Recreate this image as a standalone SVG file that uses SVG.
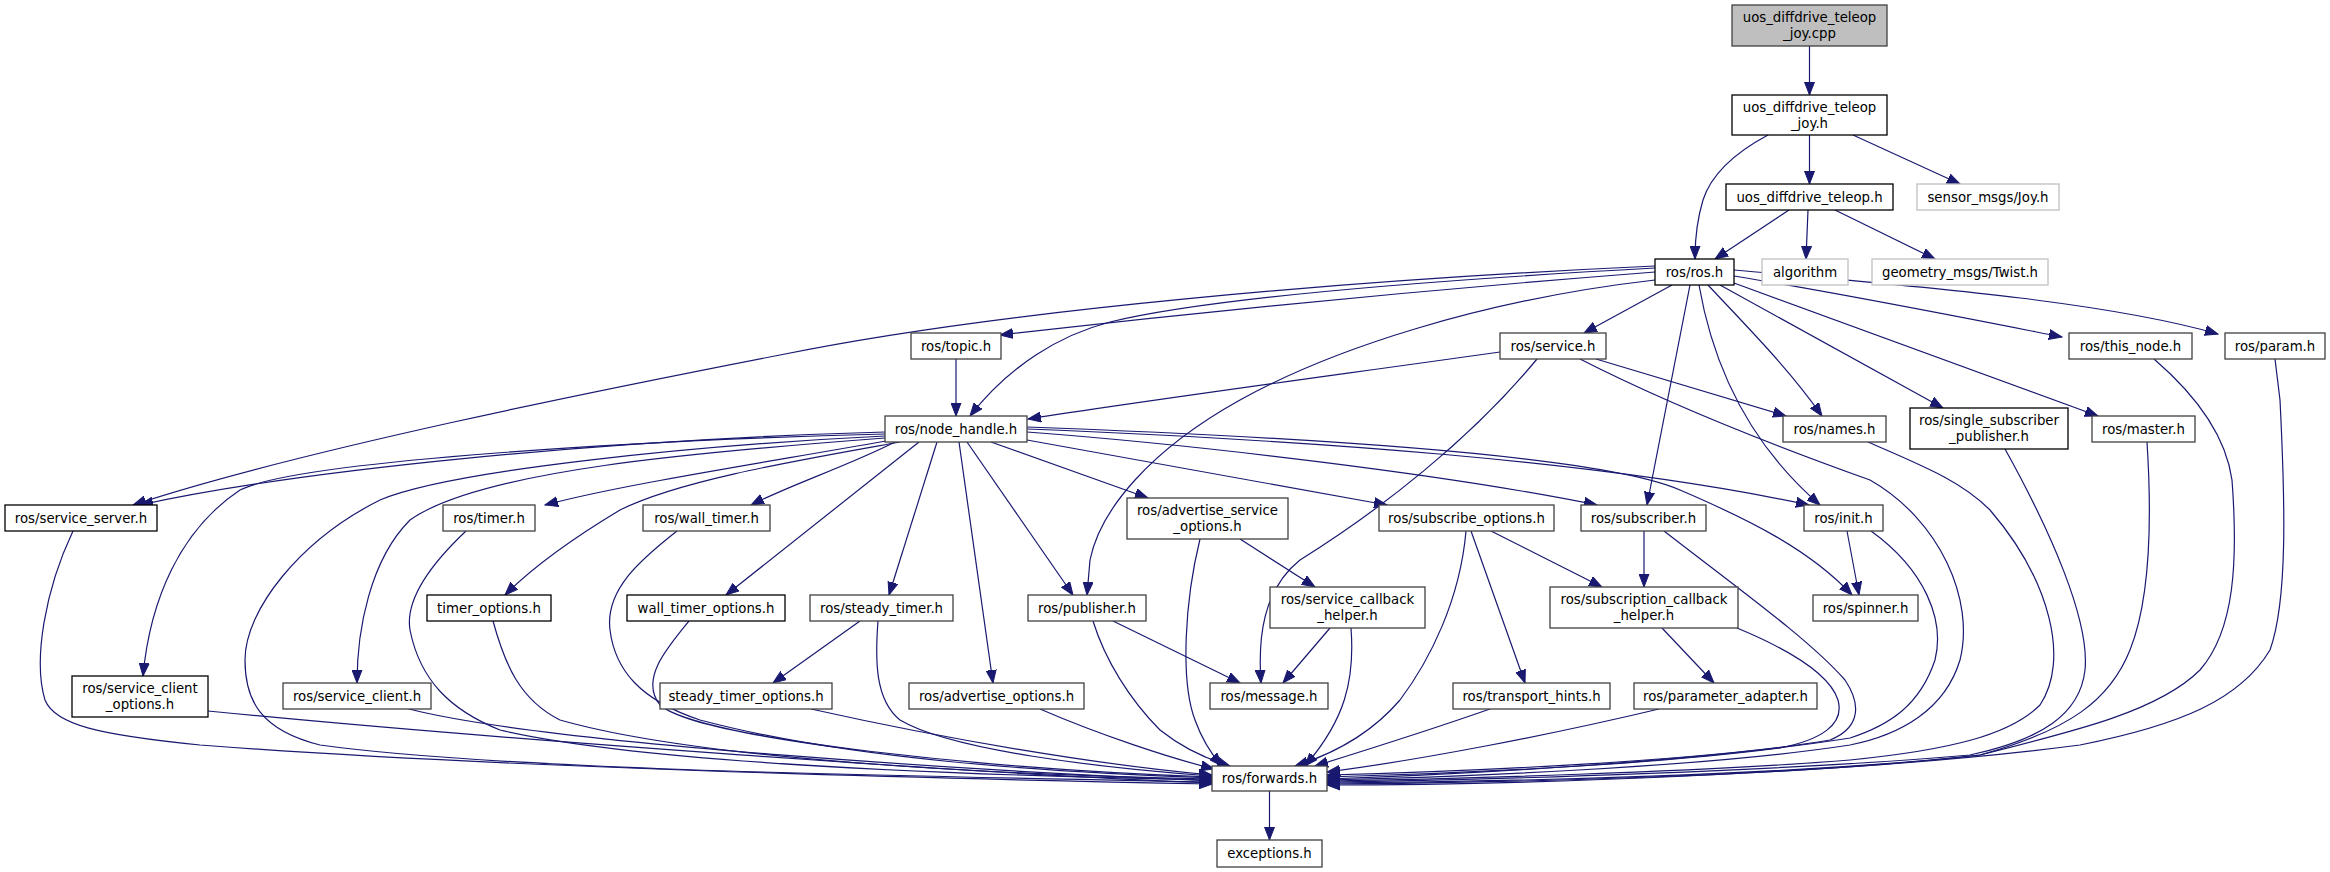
<svg xmlns="http://www.w3.org/2000/svg" width="2330" height="872" viewBox="0 0 2330 872">
<style>
.bg{fill:#ffffff}
.n rect{fill:#ffffff;stroke:#404040;stroke-width:1.3}
.n.blk rect{stroke:#000000}
.n.root rect{fill:#bfbfbf;stroke:#404040}
.n.ext rect{stroke:#bfbfbf}
.n text{font-family:"DejaVu Sans","Liberation Sans",sans-serif;font-size:13.3px;fill:#000000;text-anchor:middle}
#edges path{fill:none;stroke:#191970;stroke-width:1.2;marker-end:url(#arr)}
</style>
<defs>
<marker id="arr" markerUnits="userSpaceOnUse" markerWidth="14" markerHeight="11" viewBox="0 0 14 11" refX="13" refY="5.5" orient="auto">
<path d="M0,0.5 L13,5.5 L0,10.5 z" fill="#191970" stroke="#191970" stroke-width="1"/>
</marker>
</defs>
<rect class="bg" x="0" y="0" width="2330" height="872"/>
<g id="edges">
<path d="M1809.5,46 L1809.5,95"/>
<path d="M1809.5,135 L1809.5,184"/>
<path d="M1768,135 C1740,150 1712,172 1703,200 C1697,220 1695,240 1695,259"/>
<path d="M1853,135 L1960,184"/>
<path d="M1789,210 L1715,259"/>
<path d="M1808,210 L1806,259"/>
<path d="M1835,210 L1935,259"/>
<path d="M1655,272 C1450,288 1200,312 1000,335"/>
<path d="M1655,268 C1400,282 1200,300 1110,322 C1060,335 1010,365 970,416"/>
<path d="M1655,266 C1350,280 1000,310 780,355 C600,390 300,450 133,505"/>
<path d="M1672,285 L1584,333"/>
<path d="M1655,280 C1480,300 1330,350 1240,400 C1150,450 1100,510 1090,560 L1087,595"/>
<path d="M1690,285 L1647,505"/>
<path d="M1699,285 C1712,360 1745,440 1820,505"/>
<path d="M1708,285 C1750,330 1790,370 1822,416"/>
<path d="M1720,285 L1943,408"/>
<path d="M1734,283 L2098,416"/>
<path d="M1734,276 C1850,295 1950,315 2062,337"/>
<path d="M1734,270 C1900,285 2100,300 2218,334"/>
<path d="M956,359 L956,416"/>
<path d="M1500,352 C1300,380 1150,400 1028,419"/>
<path d="M1596,359 L1786,416"/>
<path d="M1537,359 C1470,440 1380,510 1300,560 C1262,590 1258,640 1261,683"/>
<path d="M1580,359 C1680,410 1800,455 1870,480 C1940,520 1975,600 1960,660 C1945,710 1900,735 1850,745 C1700,768 1450,777 1327,780"/>
<path d="M885,432 C600,440 300,470 140,505"/>
<path d="M885,434 C650,440 300,460 240,490 C180,530 150,600 143,676"/>
<path d="M885,436 C700,445 450,470 380,500 C300,540 245,610 245,660 C245,700 260,730 320,745 C500,770 900,776 1212,782"/>
<path d="M885,438 C700,452 480,470 410,520 C370,560 357,630 357,683"/>
<path d="M886,441 C750,465 620,485 545,505"/>
<path d="M900,442 C800,460 680,480 620,510 C570,540 530,570 505,595"/>
<path d="M895,442 C850,465 790,485 751,505"/>
<path d="M919,442 L726,595"/>
<path d="M937,442 L889,595"/>
<path d="M959,442 L993,683"/>
<path d="M967,442 L1073,595"/>
<path d="M991,442 L1148,498"/>
<path d="M1027,440 L1387,505"/>
<path d="M1027,432 C1200,445 1450,475 1597,505"/>
<path d="M1027,429 C1300,440 1600,460 1809,505"/>
<path d="M1027,427 C1300,437 1600,455 1680,490 C1750,520 1810,550 1852,595"/>
<path d="M73,531 C45,590 33,660 45,700 C55,725 100,735 200,745 C500,768 900,778 1212,784"/>
<path d="M208,711 C500,740 1000,775 1212,783"/>
<path d="M409,709 C550,745 1000,772 1212,781"/>
<path d="M466,531 C430,565 405,600 410,630 C420,680 450,710 500,730 C650,765 1000,776 1212,780"/>
<path d="M493,621 C505,665 520,700 560,720 C700,760 1000,775 1212,779"/>
<path d="M677,531 C640,560 605,590 610,630 C615,670 640,700 700,720 C850,760 1050,772 1212,778"/>
<path d="M689,621 C665,650 640,680 660,705 C700,740 1000,770 1212,777"/>
<path d="M860,621 L773,683"/>
<path d="M878,621 C875,660 875,700 900,720 C950,750 1100,768 1212,776"/>
<path d="M811,709 C950,740 1100,765 1212,775"/>
<path d="M1040,709 C1100,735 1170,758 1214,769"/>
<path d="M1113,621 L1240,683"/>
<path d="M1093,621 C1105,660 1130,700 1160,730 C1185,750 1210,760 1230,766"/>
<path d="M1200,539 C1185,600 1180,680 1195,720 C1203,742 1212,755 1222,766"/>
<path d="M1240,539 L1315,587"/>
<path d="M1330,628 L1283,683"/>
<path d="M1351,628 C1355,680 1345,720 1305,766"/>
<path d="M1491,531 L1602,587"/>
<path d="M1471,531 L1525,683"/>
<path d="M1466,531 C1460,600 1430,660 1400,700 C1370,735 1330,755 1295,766"/>
<path d="M1644,531 L1644,587"/>
<path d="M1664,531 C1740,590 1810,640 1845,680 C1865,710 1855,730 1830,740 C1700,762 1450,772 1327,775"/>
<path d="M1847,531 L1859,595"/>
<path d="M1871,531 C1925,570 1945,620 1935,660 C1920,705 1890,725 1850,738 C1700,762 1450,775 1327,779"/>
<path d="M1662,628 L1714,683"/>
<path d="M1737,628 C1790,650 1830,675 1838,700 C1845,725 1820,740 1780,748 C1650,765 1450,774 1327,777"/>
<path d="M1490,709 C1430,730 1360,752 1315,766"/>
<path d="M1659,709 C1550,735 1420,760 1327,772"/>
<path d="M1868,442 C1920,465 1960,480 1990,510 C2050,580 2070,660 2040,705 C2010,735 1950,750 1850,760 C1700,772 1450,779 1327,781"/>
<path d="M2005,449 C2050,530 2090,620 2085,670 C2080,715 2040,740 1970,755 C1800,770 1500,780 1327,782"/>
<path d="M2147,442 C2152,520 2150,600 2130,650 C2110,700 2070,730 1980,755 C1800,775 1500,782 1327,783"/>
<path d="M2154,359 C2190,390 2225,430 2232,480 C2238,560 2235,630 2200,670 C2160,710 2080,730 1980,755 C1800,776 1500,783 1327,784"/>
<path d="M2275,359 L2280,400 C2285,500 2288,600 2270,650 C2240,700 2180,725 2080,745 C1850,775 1500,785 1327,785"/>
<path d="M1269.5,791 L1269.5,840"/>
</g>
<g id="n_cpp" class="n root"><rect x="1732" y="5" width="155" height="41"/><text x="1809.5" y="22">uos_diffdrive_teleop</text><text x="1809.5" y="37.5">_joy.cpp</text></g>
<g id="n_joyh" class="n blk"><rect x="1732" y="95" width="155" height="40"/><text x="1809.5" y="112">uos_diffdrive_teleop</text><text x="1809.5" y="127.5">_joy.h</text></g>
<g id="n_teleop" class="n blk"><rect x="1726" y="184" width="167" height="26"/><text x="1809.5" y="201.6">uos_diffdrive_teleop.h</text></g>
<g id="n_joymsg" class="n ext"><rect x="1917" y="184" width="142" height="26"/><text x="1988" y="201.6">sensor_msgs/Joy.h</text></g>
<g id="n_ros" class="n blk"><rect x="1655" y="259" width="79" height="26"/><text x="1694.5" y="276.6">ros/ros.h</text></g>
<g id="n_algo" class="n ext"><rect x="1762" y="259" width="86" height="26"/><text x="1805" y="276.6">algorithm</text></g>
<g id="n_twist" class="n ext"><rect x="1872" y="259" width="176" height="26"/><text x="1960" y="276.6">geometry_msgs/Twist.h</text></g>
<g id="n_topic" class="n"><rect x="911" y="333" width="90" height="26"/><text x="956" y="350.6">ros/topic.h</text></g>
<g id="n_service" class="n"><rect x="1500" y="333" width="106" height="26"/><text x="1553" y="350.6">ros/service.h</text></g>
<g id="n_thisnode" class="n"><rect x="2069" y="333" width="123" height="26"/><text x="2130.5" y="350.6">ros/this_node.h</text></g>
<g id="n_param" class="n"><rect x="2225" y="333" width="100" height="26"/><text x="2275" y="350.6">ros/param.h</text></g>
<g id="n_nodehandle" class="n"><rect x="885" y="416" width="142" height="26"/><text x="956" y="433.6">ros/node_handle.h</text></g>
<g id="n_names" class="n"><rect x="1783" y="416" width="103" height="26"/><text x="1834.5" y="433.6">ros/names.h</text></g>
<g id="n_singlesub" class="n blk"><rect x="1910" y="408" width="158" height="41"/><text x="1989" y="425">ros/single_subscriber</text><text x="1989" y="440.5">_publisher.h</text></g>
<g id="n_master" class="n"><rect x="2092" y="416" width="103" height="26"/><text x="2143.5" y="433.6">ros/master.h</text></g>
<g id="n_srvserver" class="n blk"><rect x="5" y="505" width="152" height="26"/><text x="81" y="522.6">ros/service_server.h</text></g>
<g id="n_timer" class="n"><rect x="443" y="505" width="92" height="26"/><text x="489" y="522.6">ros/timer.h</text></g>
<g id="n_walltimer" class="n"><rect x="643" y="505" width="127" height="26"/><text x="706.5" y="522.6">ros/wall_timer.h</text></g>
<g id="n_advsrvopts" class="n"><rect x="1127" y="498" width="161" height="41"/><text x="1207.5" y="515">ros/advertise_service</text><text x="1207.5" y="530.5">_options.h</text></g>
<g id="n_subopts" class="n"><rect x="1379" y="505" width="175" height="26"/><text x="1466.5" y="522.6">ros/subscribe_options.h</text></g>
<g id="n_subscriber" class="n"><rect x="1581" y="505" width="125" height="26"/><text x="1643.5" y="522.6">ros/subscriber.h</text></g>
<g id="n_init" class="n"><rect x="1804" y="505" width="79" height="26"/><text x="1843.5" y="522.6">ros/init.h</text></g>
<g id="n_timeropts" class="n blk"><rect x="427" y="595" width="124" height="26"/><text x="489" y="612.6">timer_options.h</text></g>
<g id="n_walltimeropts" class="n blk"><rect x="627" y="595" width="158" height="26"/><text x="706" y="612.6">wall_timer_options.h</text></g>
<g id="n_steadytimer" class="n"><rect x="810" y="595" width="143" height="26"/><text x="881.5" y="612.6">ros/steady_timer.h</text></g>
<g id="n_publisher" class="n"><rect x="1028" y="595" width="118" height="26"/><text x="1087" y="612.6">ros/publisher.h</text></g>
<g id="n_srvcb" class="n"><rect x="1270" y="587" width="155" height="41"/><text x="1347.5" y="604">ros/service_callback</text><text x="1347.5" y="619.5">_helper.h</text></g>
<g id="n_subcb" class="n"><rect x="1550" y="587" width="188" height="41"/><text x="1644" y="604">ros/subscription_callback</text><text x="1644" y="619.5">_helper.h</text></g>
<g id="n_spinner" class="n"><rect x="1813" y="595" width="105" height="26"/><text x="1865.5" y="612.6">ros/spinner.h</text></g>
<g id="n_srvclientopts" class="n blk"><rect x="72" y="676" width="136" height="41"/><text x="140" y="693">ros/service_client</text><text x="140" y="708.5">_options.h</text></g>
<g id="n_srvclient" class="n"><rect x="283" y="683" width="148" height="26"/><text x="357" y="700.6">ros/service_client.h</text></g>
<g id="n_steadyopts" class="n"><rect x="660" y="683" width="172" height="26"/><text x="746" y="700.6">steady_timer_options.h</text></g>
<g id="n_advopts" class="n"><rect x="909" y="683" width="175" height="26"/><text x="996.5" y="700.6">ros/advertise_options.h</text></g>
<g id="n_message" class="n"><rect x="1210" y="683" width="118" height="26"/><text x="1269" y="700.6">ros/message.h</text></g>
<g id="n_transport" class="n"><rect x="1453" y="683" width="157" height="26"/><text x="1531.5" y="700.6">ros/transport_hints.h</text></g>
<g id="n_paramadapter" class="n"><rect x="1634" y="683" width="183" height="26"/><text x="1725.5" y="700.6">ros/parameter_adapter.h</text></g>
<g id="n_forwards" class="n"><rect x="1212" y="766" width="115" height="25"/><text x="1269.5" y="783.1">ros/forwards.h</text></g>
<g id="n_exceptions" class="n"><rect x="1217" y="840" width="105" height="27"/><text x="1269.5" y="858.1">exceptions.h</text></g>
</svg>
